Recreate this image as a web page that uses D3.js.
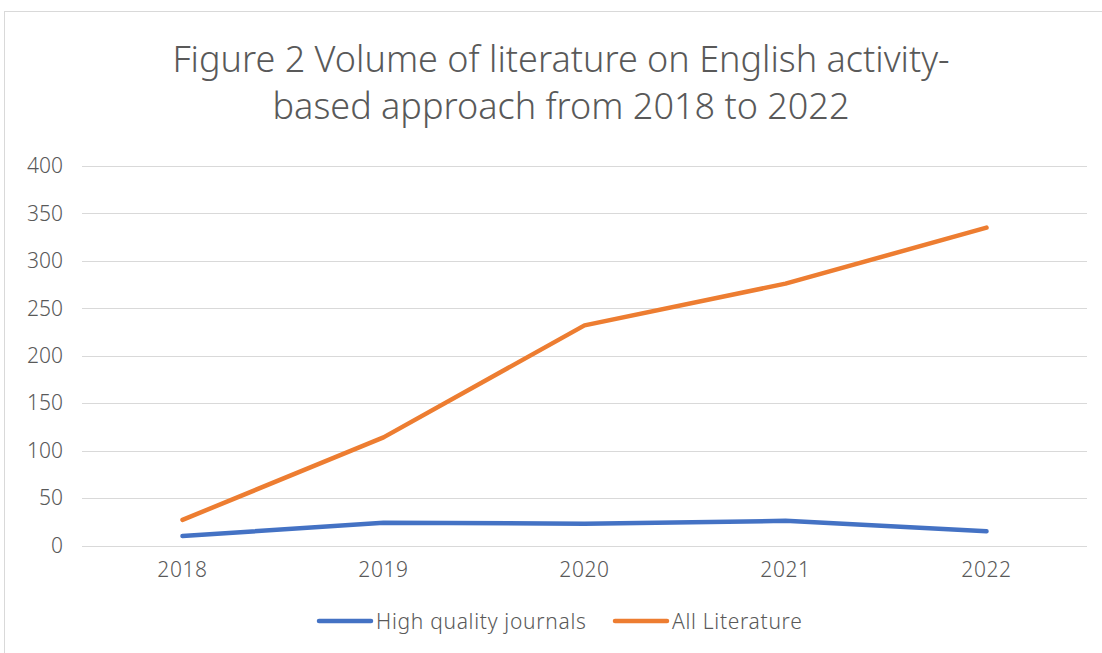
<!DOCTYPE html>
<html>
<head>
<meta charset="utf-8">
<script src="https://cdn.jsdelivr.net/npm/d3@7"></script>
<style>
  html, body { margin: 0; padding: 0; background: #fff; }
  svg { display: block; }
  text { font-family: "Noto Sans", "Open Sans", sans-serif; fill: #595959; }
</style>
</head>
<body>
<svg id="chart" width="1102" height="653"></svg>
<script>
// Data
const years = ["2018", "2019", "2020", "2021", "2022"];
const highQuality = [10, 24, 23, 26, 15];
const allLiterature = [27, 114, 232, 276, 335];
const yTicks = [0, 50, 100, 150, 200, 250, 300, 350, 400];
const seriesNames = ["High quality journals", "All Literature"];
const seriesColors = ["#4472C4", "#ED7D31"];
const titleLines = ["Figure 2 Volume of literature on English activity-", "based approach from 2018 to 2022"];

const svg = d3.select("#chart");
const W = 1102, H = 653;

// chart frame
svg.append("rect")
  .attr("x", 4.5).attr("y", 11.5)
  .attr("width", W + 20).attr("height", H + 20)
  .attr("fill", "#fff").attr("stroke", "#d9d9d9").attr("stroke-width", 1);

const plot = { left: 82, right: 1087, top: 166, bottom: 545.5 };

const x = d3.scaleBand().domain(years).range([plot.left, plot.right]);
const y = d3.scaleLinear().domain([0, 400]).range([plot.bottom, plot.top]);

// title
svg.append("g").selectAll("text").data(titleLines).join("text")
  .attr("x", 561)
  .attr("y", (d, i) => 72 + i * 47)
  .attr("text-anchor", "middle")
  .attr("font-size", 36)
  .attr("font-weight", 300)
  .text(d => d);

// gridlines
svg.append("g").selectAll("line").data(yTicks).join("line")
  .attr("x1", plot.left).attr("x2", plot.right)
  .attr("y1", d => Math.round(y(d)) + 0.5).attr("y2", d => Math.round(y(d)) + 0.5)
  .attr("stroke", "#d9d9d9").attr("stroke-width", 1);

// y axis labels
const yAxis = d3.axisLeft(y).tickValues(yTicks).tickSize(0).tickPadding(0);
const gy = svg.append("g").attr("transform", `translate(${plot.left - 19},0)`).call(yAxis);
gy.select(".domain").remove();
gy.selectAll("text").attr("font-size", 21).attr("fill", "#595959")
  .attr("font-family", "\"Noto Sans\", sans-serif").attr("font-weight", 300);

// x axis labels
const xAxis = d3.axisBottom(x).tickSize(0).tickPadding(0);
const gx = svg.append("g").attr("transform", `translate(0,${plot.bottom + 17})`).call(xAxis);
gx.select(".domain").remove();
gx.selectAll("text").attr("font-size", 21).attr("fill", "#595959")
  .attr("font-family", "\"Noto Sans\", sans-serif").attr("font-weight", 300)
  .attr("letter-spacing", 0.6);

// lines
const line = d3.line()
  .x((d, i) => x(years[i]) + x.bandwidth() / 2)
  .y(d => y(d));

[highQuality, allLiterature].forEach((vals, k) => {
  svg.append("path")
    .datum(vals)
    .attr("d", line)
    .attr("fill", "none")
    .attr("stroke", seriesColors[k])
    .attr("stroke-width", 4.5)
    .attr("stroke-linecap", "round")
    .attr("stroke-linejoin", "round");
});

// legend
const legendItems = [
  { name: seriesNames[0], color: seriesColors[0], x: 319 },
  { name: seriesNames[1], color: seriesColors[1], x: 615 }
];
const lg = svg.append("g");
legendItems.forEach(it => {
  lg.append("line")
    .attr("x1", it.x).attr("x2", it.x + 52)
    .attr("y1", 621).attr("y2", 621)
    .attr("stroke", it.color).attr("stroke-width", 4.5)
    .attr("stroke-linecap", "round");
  lg.append("text")
    .attr("x", it.x + 57).attr("y", 629)
    .attr("font-size", 21)
    .attr("font-weight", 300)
    .attr("letter-spacing", 0.7)
    .text(it.name);
});
</script>
</body>
</html>
